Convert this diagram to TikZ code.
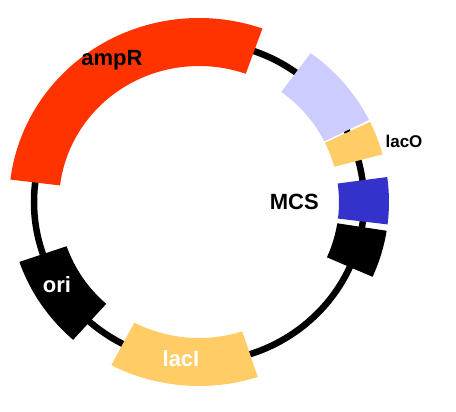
\documentclass[tikz,border=0pt]{standalone}
\usepackage{fontspec}
\setmainfont{Liberation Sans}
\usepackage{tikz}
\definecolor{ampred}{HTML}{FF3300}
\definecolor{lacpurple}{HTML}{CCCCFF}
\definecolor{lacorange}{HTML}{FFCC66}
\definecolor{mcsblue}{HTML}{3333CC}
% one piece of the ring: start angle, end angle, colour
\newcommand{\plasmidseg}[3]{%
  \fill[#3] (#1:190pt and 184pt) arc[start angle=#1, end angle=#2, x radius=190pt, y radius=184pt]
    -- (#2:140pt and 136pt) arc[start angle=#2, end angle=#1, x radius=140pt, y radius=136pt] -- cycle;}

\begin{document}
\begin{tikzpicture}[x=1pt,y=1pt,
  label/.style={font=\bfseries\fontsize{22}{26}\selectfont,inner sep=0pt}]
\useasboundingbox (-199,-210) rectangle (257,202);
\coordinate (c) at (0,0);
\draw[line width=6.5pt] (c) ellipse[x radius=165pt, y radius=160pt];

\plasmidseg{70.5}{173}{ampred}
\plasmidseg{26.5}{54}{lacpurple}
\plasmidseg{15}{25.8}{lacorange}
\plasmidseg{-7}{7.8}{mcsblue}
\plasmidseg{-24}{-9}{black}
\plasmidseg{242.5}{288}{lacorange}
\plasmidseg{199}{228.5}{black}

\node[label] (ampR) at (-87,142) {ampR};
\node[label,font=\bfseries\fontsize{17}{20}\selectfont] (lacO) at (205,61) {lacO};
\node[label,anchor=east] (mcs) at (120,0) {MCS};
\node[label,text=white] (ori) at (-142,-83) {ori};
\node[label,text=white] (lacI) at (-18,-157) {lacI};
\end{tikzpicture}
\end{document}
